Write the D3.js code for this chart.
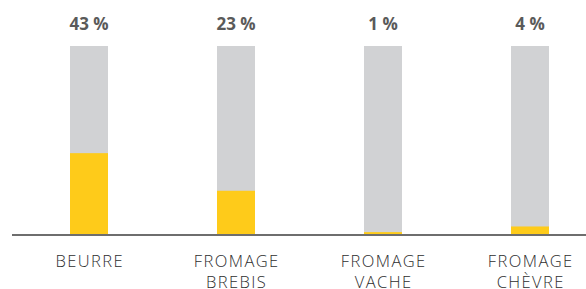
<!DOCTYPE html>
<html>
<head>
<meta charset="utf-8">
<script src="https://cdn.jsdelivr.net/npm/d3@7"></script>
<style>
  body { margin: 0; background: #fff; }
</style>
</head>
<body>
<div id="chart-area"></div>
<script>
// data
var categories = [['BEURRE'], ['FROMAGE', 'BREBIS'], ['FROMAGE', 'VACHE'], ['FROMAGE', 'CHÈVRE']];
var shares = [43, 23, 1, 4];
var labels = ['43 %', '23 %', '1 %', '4 %'];

var width = 586, height = 289;
var barWidth = 38;

var svg = d3.select('#chart-area').append('svg')
    .attr('width', width)
    .attr('height', height);

var x = d3.scalePoint()
    .domain(d3.range(categories.length))
    .range([89, 530]);

var y = d3.scaleLinear()
    .domain([0, 100])
    .range([234, 46]);

// grey background bars (100 %)
svg.selectAll('rect.bg')
    .data(shares)
    .enter().append('rect')
    .attr('class', 'bg')
    .attr('x', (d, i) => x(i) - barWidth / 2)
    .attr('y', y(100))
    .attr('width', barWidth)
    .attr('height', y(0) - y(100))
    .attr('fill', '#d1d2d4');

// yellow share bars
svg.selectAll('rect.val')
    .data(shares)
    .enter().append('rect')
    .attr('class', 'val')
    .attr('x', (d, i) => x(i) - barWidth / 2)
    .attr('y', d => y(d))
    .attr('width', barWidth)
    .attr('height', d => y(0) - y(d))
    .attr('fill', '#fecb1a');

// baseline
svg.append('line')
    .attr('x1', 12)
    .attr('x2', width)
    .attr('y1', 235)
    .attr('y2', 235)
    .attr('stroke', '#555')
    .attr('stroke-opacity', 0.85)
    .attr('stroke-width', 2);

// value labels
svg.selectAll('text.value')
    .data(labels)
    .enter().append('text')
    .attr('class', 'value')
    .attr('x', (d, i) => x(i))
    .attr('y', 30)
    .attr('text-anchor', 'middle')
    .attr('style', 'font-family: "Open Sans", sans-serif; font-size: 17px; font-weight: 700; fill: #5a5a5a')
    .text(d => d);

// category labels
var cat = svg.selectAll('text.cat')
    .data(categories)
    .enter().append('text')
    .attr('class', 'cat')
    .attr('text-anchor', 'middle')
    .attr('style', 'font-family: "Open Sans", sans-serif; font-size: 16.5px; font-weight: 350; letter-spacing: 1.4px; fill: #2e2e2e');

cat.selectAll('tspan')
    .data((d, i) => d.map(t => ({ t: t, i: i })))
    .enter().append('tspan')
    .attr('x', d => x(d.i) + 0.7)
    .attr('y', (d, j) => 267 + j * 21)
    .text(d => d.t);
</script>
</body>
</html>
